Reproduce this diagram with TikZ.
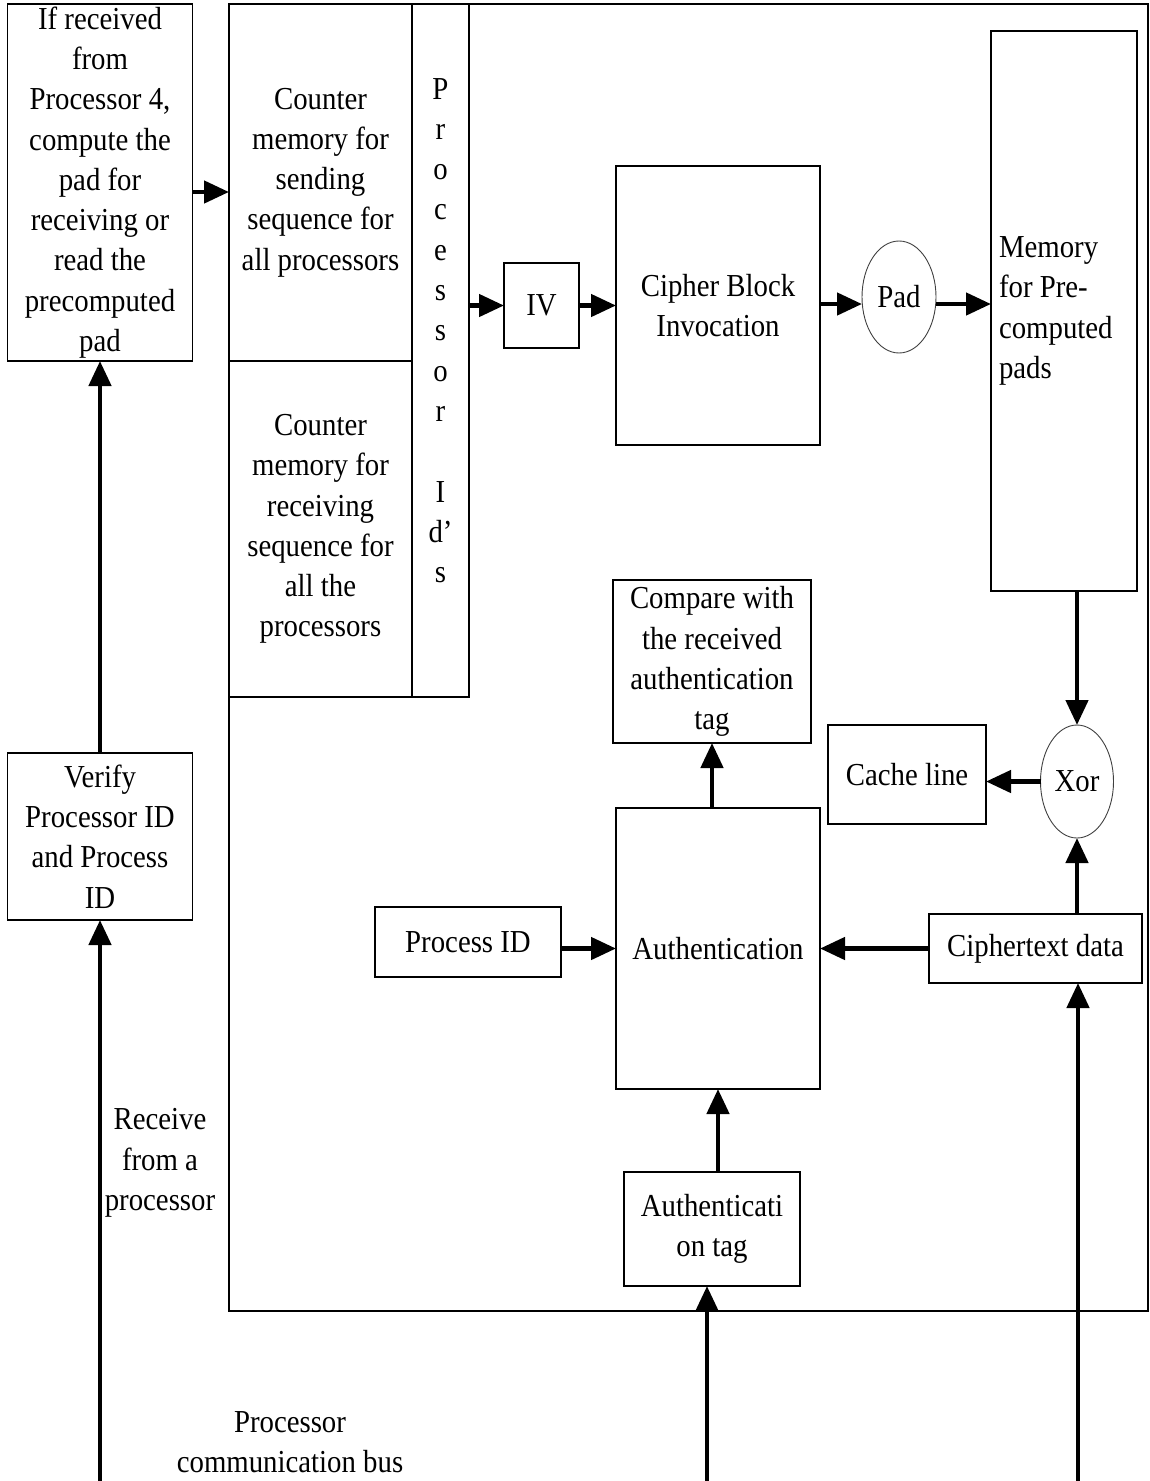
\documentclass[tikz,border=0pt]{standalone}
\usepackage{fontspec}
\setmainfont[FakeStretch=0.9]{Liberation Serif}
\usetikzlibrary{arrows.meta,shapes.geometric}
\newcommand\figfont{\fontsize{32pt}{40.3pt}\selectfont}
\begin{document}
\begin{tikzpicture}[x=1pt,y=-1pt,
  every node/.style={font=\figfont, inner sep=0pt, outer sep=0pt},
  blk/.style={draw=black, line width=1.3pt, rectangle, align=center},
  oval/.style={draw=black!75, line width=0.9pt, ellipse, align=center},
  lbl/.style={align=center},
  arr/.style={line width=4.6pt, -{Triangle[length=25pt,width=22pt]}}
]
\useasboundingbox (0,0) rectangle (1150,1481);

% outer frame of the processor unit
\node[blk, minimum width=919pt, minimum height=1307pt] (frame) at (688.5,657.5) {};

% left column
\node[blk, minimum width=185pt, minimum height=357pt] (topleft) at (100,182.5)
  {If received\\from\\Processor 4,\\compute the\\pad for\\receiving or\\read the\\precomputed\\pad};
\node[blk, minimum width=185pt, minimum height=167pt] (verify) at (100,836.5)
  {Verify\\Processor ID\\and Process\\ID};

% counter memories and processor id column
\node[blk, minimum width=183pt, minimum height=357pt] (cs) at (320.5,182.5)
  {Counter\\memory for\\sending\\sequence for\\all processors};
\node[blk, minimum width=183pt, minimum height=336pt] (cr) at (320.5,529)
  {Counter\\memory for\\receiving\\sequence for\\all the\\processors};
\node[blk, minimum width=57pt, minimum height=693pt] (pid) at (440.5,350.5) {};
\node[lbl] (pidtext) at (440.5,330.5) {P\\r\\o\\c\\e\\s\\s\\o\\r\\[40.3pt]I\\d’\\s};

% pad generation path
\node[blk, minimum width=75pt, minimum height=85pt] (iv) at (541.5,305.5) {IV};
\node[blk, minimum width=204pt, minimum height=279pt] (cipher) at (718,305.5)
  {Cipher Block\\Invocation};
\node[oval, minimum width=74pt, minimum height=112pt] (pad) at (899,297) {Pad};
\node[blk, minimum width=146pt, minimum height=560pt] (mem) at (1064,311) {};
\node[align=left, anchor=west] (memtext) at (999,311) {Memory\\for Pre-\\computed\\pads};

% decryption and authentication
\node[blk, minimum width=198pt, minimum height=163pt] (compare) at (712,661.5)
  {Compare with\\the received\\authentication\\tag};
\node[blk, minimum width=158pt, minimum height=99pt] (cache) at (907,774.5) {Cache line};
\node[oval, minimum width=73pt, minimum height=113pt] (xor) at (1077,781.5) {Xor};
\node[blk, minimum width=204pt, minimum height=281pt] (auth) at (718,948.5) {Authentication};
\node[blk, minimum width=186pt, minimum height=70pt] (procid) at (468,942) {Process ID};
\node[blk, minimum width=213pt, minimum height=69pt] (ctd) at (1035.5,948.5) {Ciphertext data};
\node[blk, minimum width=176pt, minimum height=114pt] (authtag) at (712,1229)
  {Authenticati\\on tag};

% free labels
\node[lbl] (recv) at (160,1163) {Receive\\from a\\processor};
\node[lbl] (bus) at (290,1442) {Processor\\communication bus};

% bus taps
\coordinate (busA) at (100,1481);
\coordinate (busB) at (707,1481);
\coordinate (busC) at (1078,1481);

% connectors
\draw[arr] (busA) -- (verify.south);
\draw[arr] (verify.north) -- (topleft.south);
\draw[arr] ([yshift=-9.5pt]topleft.east) -- ([yshift=-9.5pt]cs.west);
\draw[arr] (pid.east |- iv.west) -- (iv.west);
\draw[arr] (iv.east) -- (cipher.west |- iv.east);
\draw[arr] (cipher.east |- 0,304) -- (pad.west |- 0,304);
\draw[arr] (pad.east |- 0,304) -- (mem.west |- 0,304);
\draw[arr] (xor.north |- mem.south) -- (xor.north);
\draw[arr] (xor.west) -- (cache.east |- xor.west);
\draw[arr] (xor.south |- ctd.north) -- (xor.south);
\draw[arr] (busC) -- (busC |- ctd.south);
\draw[arr] (ctd.west) -- (auth.east |- ctd.west);
\draw[arr] (procid.east |- auth.west) -- (auth.west);
\draw[arr] (compare.south |- auth.north) -- (compare.south);
\draw[arr] (auth.south |- authtag.north) -- (auth.south);
\draw[arr] (busB) -- (busB |- authtag.south);
\end{tikzpicture}
\end{document}
